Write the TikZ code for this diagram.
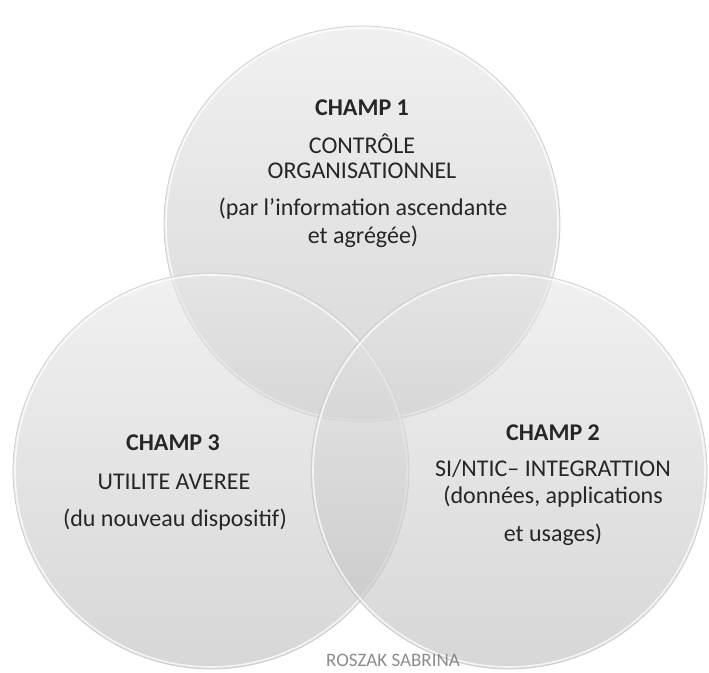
\documentclass[tikz,border=0pt]{standalone}
\usepackage{fontspec}
\setmainfont{Carlito}
\begin{document}
\begin{tikzpicture}[x=1pt,y=-1pt,
  circ/.style={circle, inner sep=0pt, minimum size=396pt, shade, top color=black!9, bottom color=black!26, fill opacity=0.6, draw=black!22, draw opacity=0.8, line width=0.7pt},
  rim/.style={white, line width=1.6pt, opacity=0.75},
  lbl/.style={anchor=base, inner sep=0pt, text=black!85, font=\fontsize{24}{26}\selectfont},
  hd/.style={lbl, font=\fontsize{24}{26}\selectfont\bfseries},
  sig/.style={anchor=base, inner sep=0pt, text=black!45, font=\fontsize{19}{21}\selectfont}]
\useasboundingbox[fill=white] (0,0) rectangle (709,672);
% circles
\node[circ] (c1) at (362,224) {};
\draw[rim] (c1.center) circle[radius=196pt];
\node[circ] (c3) at (211,471) {};
\draw[rim] (c3.center) circle[radius=196pt];
\node[circ] (c2) at (509,471) {};
\draw[rim] (c2.center) circle[radius=196pt];
% texts of champ 1
\node[hd]  (t11) at (362,115) {CHAMP 1};
\node[lbl] (t12) at (362,153) {CONTRÔLE};
\node[lbl] (t13) at (362,178) {ORGANISATIONNEL};
\node[lbl] (t14) at (363,215) {(par l’information ascendante};
\node[lbl] (t15) at (363,243) {et agrégée)};
% texts of champ 3
\node[hd]  (t31) at (173,450) {CHAMP 3};
\node[lbl] (t32) at (174,489) {UTILITE AVEREE};
\node[lbl] (t33) at (175,526) {(du nouveau dispositif)};
% texts of champ 2
\node[hd]  (t21) at (553,440) {CHAMP 2};
\node[lbl] (t22) at (553,476) {SI/NTIC– INTEGRATTION};
\node[lbl] (t23) at (553,503) {(données, applications};
\node[lbl] (t24) at (553,541) {et usages)};
% signature
\node[sig] (s) at (393,666) {ROSZAK SABRINA};
\end{tikzpicture}
\end{document}
